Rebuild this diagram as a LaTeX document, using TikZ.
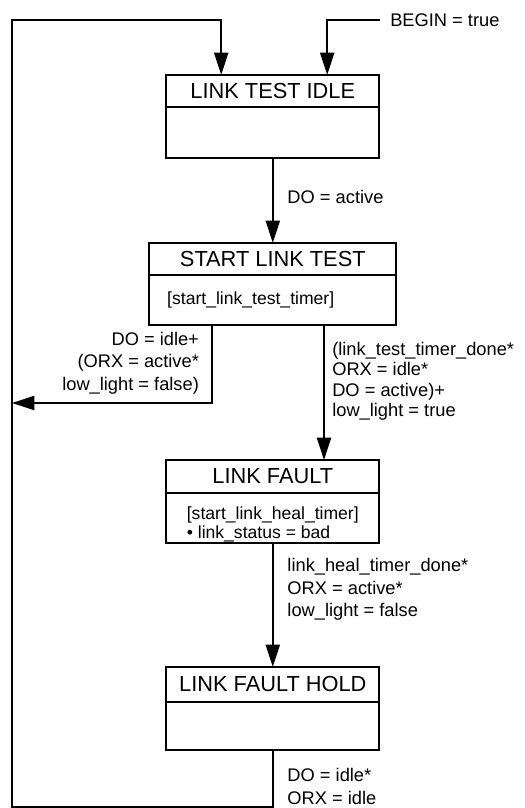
\documentclass[tikz,border=0pt]{standalone}
\usepackage{fontspec}
\setmainfont{Liberation Sans}
\usetikzlibrary{arrows.meta,positioning}
\tikzset{
  lnkArrow/.style={-{Triangle[length=16pt,width=10pt]}, line width=1.5pt},
  lnkLine/.style={line width=1.5pt}
}

\begin{document}
\begin{tikzpicture}[
        stateHead/.style={draw, line width=1.5pt, outer sep=0pt, inner sep=0pt, minimum width=5.33cm, minimum height=0.8cm, font=\fontsize{15.5pt}{18pt}\selectfont},
        stateBody/.style={draw, line width=1.5pt, outer sep=0pt, inner sep=0pt, minimum width=5.33cm, minimum height=1.27cm, align=left, font=\fontsize{12.5pt}{13.5pt}\selectfont},
        guard/.style={inner sep=0pt, align=left, font=\fontsize{13pt}{16pt}\selectfont}
      ]
      \useasboundingbox (0,0) rectangle (13.1,-20.2);
      \node[stateHead] (idle) at (6.82,-2.275) {LINK TEST IDLE};
      \node[stateBody, below=0pt of idle] (idleBody) {};
      \node[stateHead, minimum width=6.18cm] (test) at (6.82,-6.475) {START LINK TEST};
      \node[stateBody, below=0pt of test, minimum width=6.18cm, minimum height=1.25cm, text width=5.28cm] (testBody) {[start\_link\_test\_timer]};
      \node[stateHead, minimum height=0.82cm] (fault) at (6.82,-11.91) {LINK FAULT};
      \node[stateBody, below=0pt of fault, minimum height=1.25cm, text height=32pt] (faultBody) {[start\_link\_heal\_timer]\\\textbullet\ link\_status = bad};
      \node[stateHead, minimum height=0.87cm] (hold) at (6.82,-17.11) {LINK FAULT HOLD};
      \node[stateBody, below=0pt of hold, minimum height=1.2cm] (holdBody) {};
      \node[guard, anchor=west, inner xsep=0.25cm] (begin) at (9.5,-0.5) {BEGIN = true};
      \node[guard, anchor=west] (toTest) at (7.18,-4.925) {DO = active};
      \node[guard, anchor=east, align=right] (backIdle) at (4.98,-9.075) {DO = idle+\\(ORX = active*\\low\_light = false)};
      \node[guard, anchor=west, font=\fontsize{13pt}{14.6pt}\selectfont] (toFault) at (8.3,-9.53) {(link\_test\_timer\_done*\\ORX = idle*\\DO = active)+\\low\_light = true};
      \node[guard, anchor=west] (toHold) at (7.18,-14.74) {link\_heal\_timer\_done*\\ORX = active*\\low\_light = false};
      \node[guard, anchor=west] (holdIdle) at (7.18,-19.66) {DO = idle*\\ORX = idle};
      \coordinate (loopTop) at (0.3,-0.5);
      \coordinate (loopBack) at (0.3,-10.075);
      \coordinate (loopBottom) at (0.3,-20.17);
      \draw[lnkArrow] (begin.west) -| ([xshift=1.36cm]idle.north);
      \draw[lnkArrow] (idleBody) -- (test);
      \draw[lnkArrow] ([xshift=-1.53cm]testBody.south) |- (loopBack);
      \draw[lnkArrow] ([xshift=1.28cm]testBody.south) -- ([xshift=1.28cm]fault.north);
      \draw[lnkArrow] (faultBody) -- (hold);
      \draw[lnkArrow] (holdBody.south) |- (loopBottom) -- (loopTop) -| ([xshift=-1.29cm]idle.north);
    \end{tikzpicture}
\end{document}
